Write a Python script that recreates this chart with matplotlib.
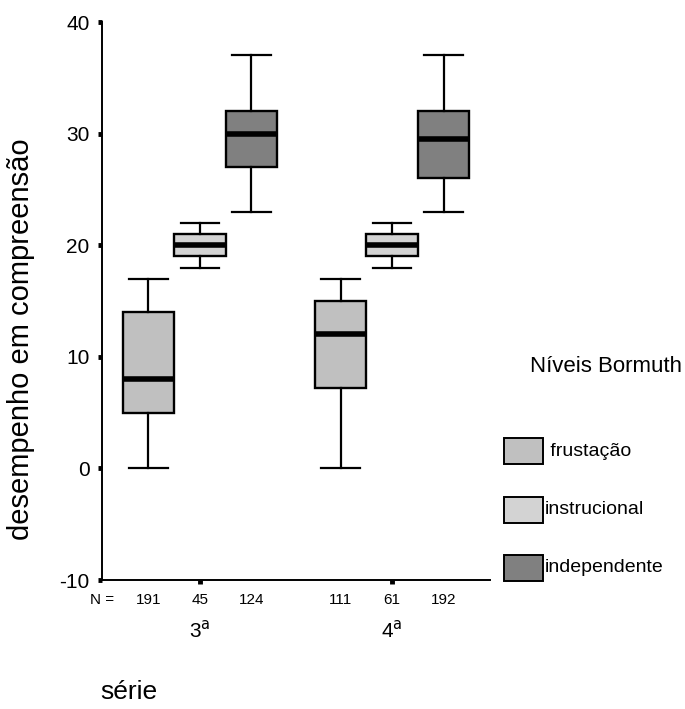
import matplotlib.pyplot as plt
from matplotlib.patches import Rectangle

plt.rcParams['font.family'] = ['Liberation Sans', 'DejaVu Sans']
plt.rcParams['axes.unicode_minus'] = False

# niveis Bormuth e series
levels = ["frustação", "instrucional", "independente"]
level_colors = ["#c0c0c0", "#d3d3d3", "#808080"]
groups = ["3$^{\\mathrm{a}}$", "4$^{\\mathrm{a}}$"]

# estatisticas do boxplot, por serie (frustação, instrucional, independente)
whislo = [[0, 18, 23], [0, 18, 23]]
q1 = [[5, 19, 27], [7.2, 19, 26]]
med = [[8, 20, 30], [12, 20, 29.5]]
q3 = [[14, 21, 32], [15, 21, 32]]
whishi = [[17, 22, 37], [17, 22, 37]]
n_counts = [[191, 45, 124], [111, 61, 192]]

offsets = [-0.268, 0.0, 0.268]

fig = plt.figure(figsize=(6.85, 7.09), dpi=100)
W, H = 685, 709
ax = fig.add_axes([102 / W, (H - 580) / H, (490 - 102) / W, (580 - 22) / H])

stats, positions, colors = [], [], []
for g in range(len(groups)):
    for k in range(len(levels)):
        stats.append({"whislo": whislo[g][k], "q1": q1[g][k], "med": med[g][k],
                      "q3": q3[g][k], "whishi": whishi[g][k], "fliers": []})
        positions.append(g + 1 + offsets[k])
        colors.append(level_colors[k])

bp = ax.bxp(stats, positions=positions, widths=0.27, capwidths=0.2,
            patch_artist=True, showfliers=False,
            boxprops=dict(linewidth=1.7, edgecolor="black"),
            whiskerprops=dict(linewidth=1.6, color="black"),
            capprops=dict(linewidth=1.6, color="black"),
            medianprops=dict(linewidth=4, color="black", solid_capstyle="butt"))
for box, c in zip(bp["boxes"], colors):
    box.set_facecolor(c)

ax.set_xlim(0.49, 2.51)
ax.set_ylim(-10, 40)
ax.set_yticks([-10, 0, 10, 20, 30, 40])
ax.set_xticks([1, 2])
ax.set_xticklabels(["", ""])
for s in ["top", "right"]:
    ax.spines[s].set_visible(False)
for s in ["left", "bottom"]:
    ax.spines[s].set_linewidth(1.4)
ax.tick_params(axis="y", direction="out", length=3, width=3.5, pad=6, labelsize=15)
ax.tick_params(axis="x", direction="out", length=3, width=3.5)

# N = e rotulos das series
tr = ax.get_xaxis_transform()
ax.text(0.555, -0.036, "N =", transform=tr, ha="right", va="center", fontsize=11)
for g in range(len(groups)):
    for k in range(len(levels)):
        ax.text(g + 1 + offsets[k], -0.036, str(n_counts[g][k]), transform=tr,
                ha="center", va="center", fontsize=11)
    ax.text(g + 1, -0.09, groups[g], transform=tr, ha="center", va="center", fontsize=15)

fig.text(21 / W, 1 - 339 / H, "desempenho em compreensão", rotation=90,
         ha="center", va="center", fontsize=21)
fig.text(100 / W, 1 - 692 / H, "série", ha="left", va="center", fontsize=19)

# legenda
fig.text(530 / W, 1 - 366 / H, "Níveis Bormuth", ha="left", va="center", fontsize=16)
leg_y = [451, 510, 568]
leg_text = [" frustação", "instrucional", "independente"]
for k in range(len(levels)):
    fig.add_artist(Rectangle((504 / W, 1 - (leg_y[k] + 13) / H), 39 / W, 26 / H,
                             transform=fig.transFigure, facecolor=level_colors[k],
                             edgecolor="black", linewidth=1.4))
    fig.text(545 / W, 1 - leg_y[k] / H, leg_text[k], ha="left", va="center", fontsize=14)

fig.savefig("out.png", dpi=100)
